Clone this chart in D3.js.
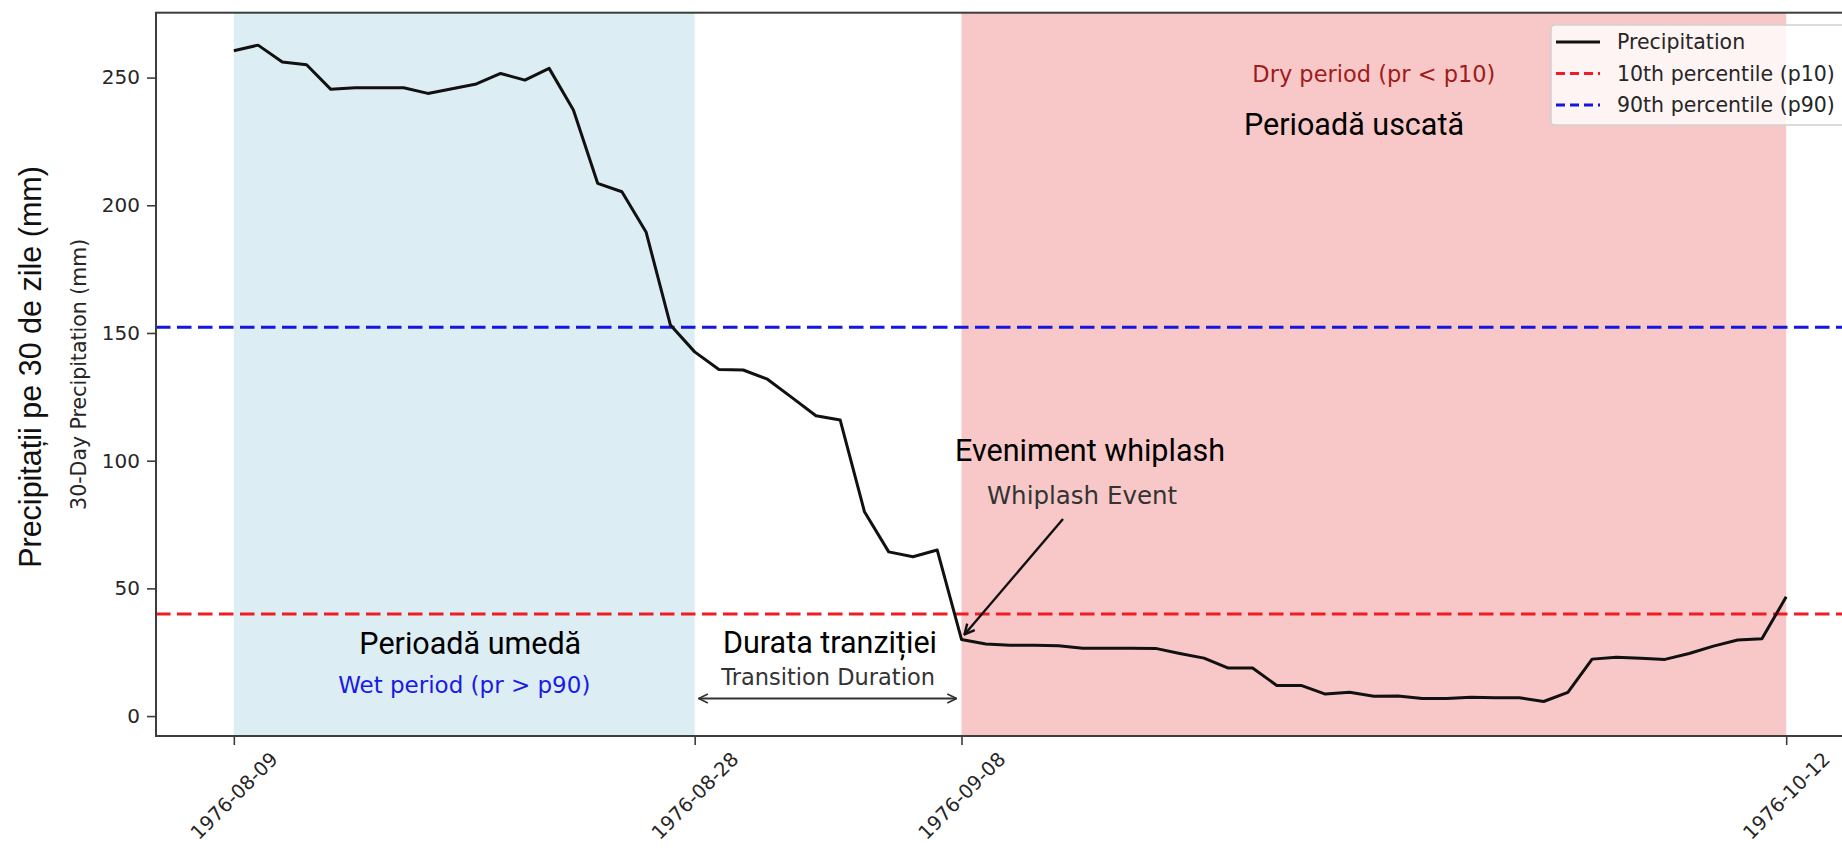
<!DOCTYPE html>
<html><head><meta charset="utf-8">
<script src="https://cdn.jsdelivr.net/npm/d3@7"></script>
<style>body{margin:0;background:#fff;} svg{display:block;}</style>
</head><body>
<svg id="chart" width="1842" height="848"></svg>
<script>
// ---------------- data ----------------
const dates = [
 "1976-08-09","1976-08-10","1976-08-11","1976-08-12","1976-08-13","1976-08-14","1976-08-15","1976-08-16",
 "1976-08-17","1976-08-18","1976-08-19","1976-08-20","1976-08-21","1976-08-22","1976-08-23","1976-08-24",
 "1976-08-25","1976-08-26","1976-08-27","1976-08-28","1976-08-29","1976-08-30","1976-08-31",
 "1976-09-01","1976-09-02","1976-09-03","1976-09-04","1976-09-05","1976-09-06","1976-09-07","1976-09-08",
 "1976-09-09","1976-09-10","1976-09-11","1976-09-12","1976-09-13","1976-09-14","1976-09-15","1976-09-16",
 "1976-09-17","1976-09-18","1976-09-19","1976-09-20","1976-09-21","1976-09-22","1976-09-23","1976-09-24",
 "1976-09-25","1976-09-26","1976-09-27","1976-09-28","1976-09-29","1976-09-30",
 "1976-10-01","1976-10-02","1976-10-03","1976-10-04","1976-10-05","1976-10-06","1976-10-07","1976-10-08",
 "1976-10-09","1976-10-10","1976-10-11","1976-10-12"
];
const precipitation = [
 260.5,262.7,256.1,255.0,245.4,246.0,246.0,246.0,243.8,245.6,247.5,251.6,249.0,253.6,237.3,208.6,
 205.3,189.4,153.1,142.6,135.7,135.5,131.9,124.8,117.6,115.9,80.0,64.3,62.4,65.0,30.0,
 28.2,27.7,27.7,27.5,26.6,26.6,26.6,26.5,24.5,22.7,18.8,18.8,12.0,12.0,8.6,9.3,
 7.8,7.9,6.9,6.9,7.4,7.2,7.2,5.7,9.3,22.3,23.0,22.6,22.2,24.5,27.4,29.8,30.3,46.7
];
const p10 = 40.0;
const p90 = 152.2;
const xTickLabels = ["1976-08-09","1976-08-28","1976-09-08","1976-10-12"];
const yTickValues = [0, 50, 100, 150, 200, 250];
const wetPeriod = ["1976-08-09","1976-08-28"];
const dryPeriod = ["1976-09-08","1976-10-12"];
const whiplashDate = "1976-09-08";
const legendLabels = ["Precipitation","10th percentile (p10)","90th percentile (p90)"];

(function(){
// ---------------- layout ----------------
const parse = d3.utcParse("%Y-%m-%d");
const svg = d3.select("#chart");
const pL = 156, pR = 1863, pT = 12.7, pB = 736;
const first = parse(dates[0]), last = parse(dates[dates.length-1]);
const pad = 3.2*24; // hours
const x = d3.scaleUtc()
  .domain([d3.utcHour.offset(first, -pad), d3.utcHour.offset(last, pad)])
  .range([pL, pR]);
const y = d3.scaleLinear().domain([-7.8, 275.4]).range([pB, pT]);

const mpl = "'DejaVu Sans', sans-serif";
const overlay = "Roboto, 'Noto Sans', sans-serif";

svg.append("rect").attr("width",1842).attr("height",848).attr("fill","#fff");

// shaded periods
svg.append("rect")
  .attr("x", x(parse(wetPeriod[0]))).attr("y", pT)
  .attr("width", x(parse(wetPeriod[1])) - x(parse(wetPeriod[0])))
  .attr("height", pB - pT).attr("fill", "#dcedf4");
svg.append("rect")
  .attr("x", x(parse(dryPeriod[0]))).attr("y", pT)
  .attr("width", x(parse(dryPeriod[1])) - x(parse(dryPeriod[0])))
  .attr("height", pB - pT).attr("fill", "#f8c8c8");

// threshold lines
svg.append("line").attr("x1", pL).attr("x2", pR)
  .attr("y1", y(p10)).attr("y2", y(p10))
  .attr("stroke", "#ef1c24").attr("stroke-width", 3).attr("stroke-dasharray", "14.5 6.5");
svg.append("line").attr("x1", pL).attr("x2", pR)
  .attr("y1", y(p90)).attr("y2", y(p90))
  .attr("stroke", "#1515e0").attr("stroke-width", 3).attr("stroke-dasharray", "14.5 6.5");

// precipitation line
const series = dates.map((d,i) => ({date: parse(d), v: precipitation[i]}));
svg.append("path").datum(series)
  .attr("fill","none").attr("stroke","#111").attr("stroke-width",3)
  .attr("stroke-linejoin","round")
  .attr("d", d3.line().x(d => x(d.date)).y(d => y(d.v)));

// axes frame
svg.append("rect").attr("x", pL).attr("y", pT)
  .attr("width", pR-pL).attr("height", pB-pT)
  .attr("fill","none").attr("stroke","#3d3d3d").attr("stroke-width",2);

// y axis
const yAxis = d3.axisLeft(y).tickValues(yTickValues).tickSize(9).tickPadding(7);
const gy = svg.append("g").attr("transform", `translate(${pL},0)`).call(yAxis);
gy.select(".domain").remove();
gy.selectAll(".tick line").attr("stroke","#3d3d3d").attr("stroke-width",1.6);
gy.selectAll(".tick text").attr("font-family", mpl).attr("font-size", 20).attr("fill","#262626");

// x axis
const xAxis = d3.axisBottom(x).tickValues(xTickLabels.map(parse)).tickSize(9).tickFormat(d3.utcFormat("%Y-%m-%d"));
const gx = svg.append("g").attr("transform", `translate(0,${pB})`).call(xAxis);
gx.select(".domain").remove();
gx.selectAll(".tick line").attr("stroke","#3d3d3d").attr("stroke-width",1.6);
gx.selectAll(".tick text")
  .attr("font-family", mpl).attr("font-size", 19.5).attr("fill","#262626")
  .attr("text-anchor","middle").attr("dominant-baseline","central")
  .attr("y", 0).attr("dy", 0)
  .attr("transform", "translate(0,60) rotate(-45)");

// axis titles
svg.append("text").attr("transform", `translate(86,${(pT+pB)/2}) rotate(-90)`)
  .attr("text-anchor","middle").attr("font-family", mpl).attr("font-size", 20.5).attr("fill","#262626")
  .text("30-Day Precipitation (mm)");
svg.append("text").attr("transform", `translate(41,367) rotate(-90)`)
  .attr("text-anchor","middle").attr("font-family", "'Liberation Sans', Arial, sans-serif").attr("font-size", 30.5).attr("fill","#111")
  .text("Precipitații pe 30 de zile (mm)");

// markers
const defs = svg.append("defs");
defs.append("marker").attr("id","headBlack").attr("viewBox","0 0 12 12").attr("refX",11).attr("refY",6)
  .attr("markerWidth",12).attr("markerHeight",12).attr("markerUnits","userSpaceOnUse").attr("orient","auto")
  .append("path").attr("d","M1,1 L11,6 L1,11").attr("fill","none").attr("stroke","#111").attr("stroke-width",2.4);
defs.append("marker").attr("id","headGray").attr("viewBox","0 0 12 12").attr("refX",11).attr("refY",6)
  .attr("markerWidth",11).attr("markerHeight",11).attr("markerUnits","userSpaceOnUse").attr("orient","auto-start-reverse")
  .append("path").attr("d","M1,1 L11,6 L1,11").attr("fill","none").attr("stroke","#333").attr("stroke-width",1.8);

const xWetMid = (x(parse(wetPeriod[0])) + x(parse(wetPeriod[1]))) / 2;
const xDryMid = (x(parse(dryPeriod[0])) + x(parse(dryPeriod[1]))) / 2;
const xTrMid = (x(parse(wetPeriod[1])) + x(parse(dryPeriod[0]))) / 2;
const wx = x(parse(whiplashDate)), wy = y(precipitation[dates.indexOf(whiplashDate)]);

// transition double arrow
svg.append("line").attr("x1", x(parse(wetPeriod[1])) + 4).attr("x2", x(parse(dryPeriod[0])) - 5)
  .attr("y1", 698.5).attr("y2", 698.5)
  .attr("stroke","#333").attr("stroke-width",1.8)
  .attr("marker-start","url(#headGray)").attr("marker-end","url(#headGray)");

// whiplash arrow
svg.append("line").attr("x1", 1063).attr("y1", 519).attr("x2", wx + 3).attr("y2", wy - 5)
  .attr("stroke","#111").attr("stroke-width",2.4).attr("marker-end","url(#headBlack)");

// matplotlib texts
svg.append("text").attr("x", xWetMid).attr("y", 693).attr("text-anchor","middle")
  .attr("font-family", mpl).attr("font-size", 23).attr("fill","#1a1ae6").text("Wet period (pr > p90)");
svg.append("text").attr("x", xDryMid).attr("y", 82).attr("text-anchor","middle")
  .attr("font-family", mpl).attr("font-size", 22.5).attr("fill","#9e1b1b").text("Dry period (pr < p10)");
svg.append("text").attr("x", xTrMid).attr("y", 684.5).attr("text-anchor","middle")
  .attr("font-family", mpl).attr("font-size", 22.5).attr("fill","#333").text("Transition Duration");
svg.append("text").attr("x", 1082).attr("y", 504).attr("text-anchor","middle")
  .attr("font-family", mpl).attr("font-size", 24.5).attr("fill","#333").text("Whiplash Event");

// Romanian overlay texts
svg.append("text").attr("x", xWetMid + 6).attr("y", 654).attr("text-anchor","middle")
  .attr("font-family", overlay).attr("font-size", 30.5).attr("fill","#000").text("Perioadă umedă");
svg.append("text").attr("x", 830).attr("y", 653).attr("text-anchor","middle")
  .attr("font-family", overlay).attr("font-size", 30.5).attr("fill","#000").text("Durata tranziției");
svg.append("text").attr("x", 1090).attr("y", 461).attr("text-anchor","middle")
  .attr("font-family", overlay).attr("font-size", 30.5).attr("fill","#000").text("Eveniment whiplash");
svg.append("text").attr("x", 1354).attr("y", 135).attr("text-anchor","middle")
  .attr("font-family", overlay).attr("font-size", 30.5).attr("fill","#000").text("Perioadă uscată");

// legend
const lg = svg.append("g").attr("transform","translate(1551,25)");
lg.append("rect").attr("x",0).attr("y",0).attr("width",360).attr("height",100).attr("rx",4)
  .attr("fill","#fff").attr("fill-opacity",0.8).attr("stroke","#cfcfcf").attr("stroke-width",1.5);
const legendStyles = [
  {color:"#111", dash:null},
  {color:"#ef1c24", dash:"9 5"},
  {color:"#1515e0", dash:"9 5"}
];
legendLabels.forEach((lab, i) => {
  const cy = 17 + i*31.5;
  lg.append("line").attr("x1",5).attr("x2",49).attr("y1",cy).attr("y2",cy)
    .attr("stroke", legendStyles[i].color).attr("stroke-width",3)
    .attr("stroke-dasharray", legendStyles[i].dash);
  lg.append("text").attr("x",66).attr("y",cy).attr("dy","0.36em")
    .attr("font-family", mpl).attr("font-size", 20.5).attr("fill","#262626").text(lab);
});
})();
</script>
</body></html>
